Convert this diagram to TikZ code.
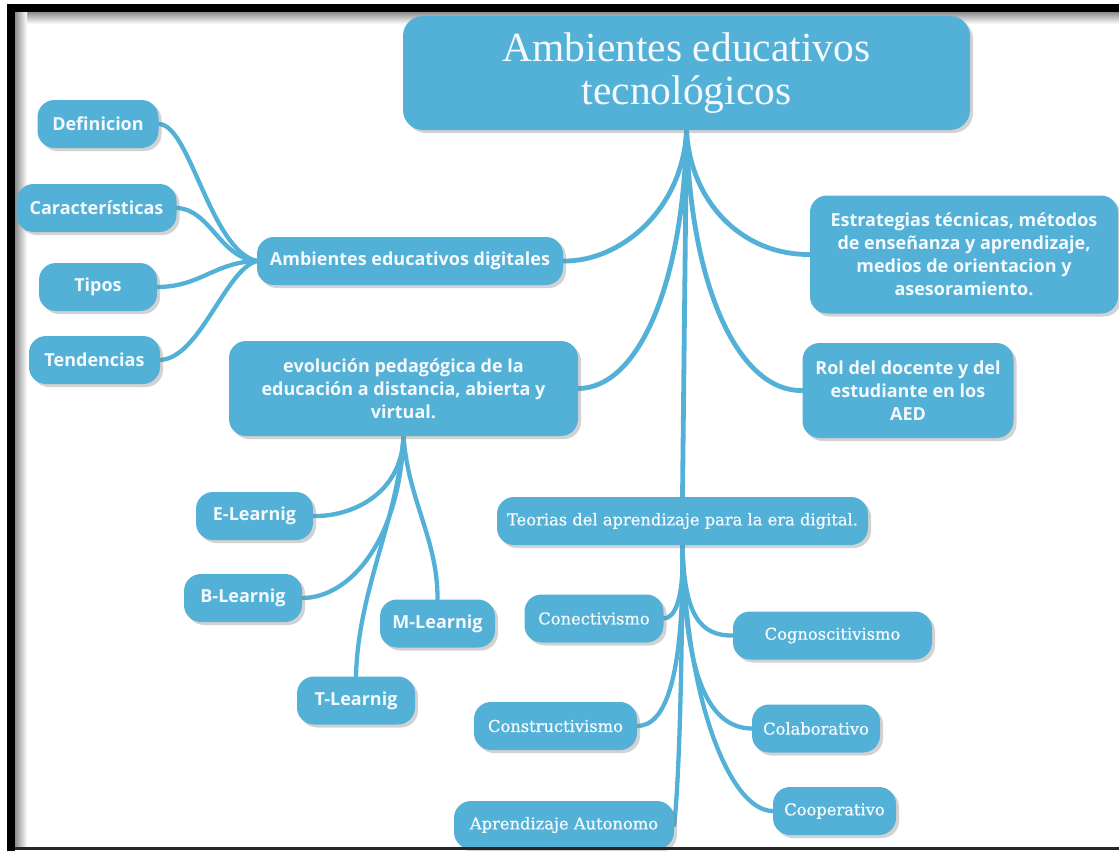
\documentclass[tikz,border=0pt]{standalone}
\usepackage{fontspec}
\setmainfont{Open Sans}
\newfontfamily\titlefont{Liberation Serif}
\newfontfamily\slabfont[FakeBold=0.8]{DejaVu Serif}
\usetikzlibrary{shadows,backgrounds}
\definecolor{mapblue}{RGB}{83,177,216}
\definecolor{maptext}{RGB}{243,249,252}
\begin{document}
\begin{tikzpicture}[x=1pt,y=-1pt,
  topic/.style={fill=mapblue,text=maptext,rounded corners=17pt,align=center,minimum height=48pt,inner sep=2pt,
    font=\fontsize{18}{23}\selectfont\bfseries,
    drop shadow={shadow xshift=3pt,shadow yshift=-3pt,opacity=.35}},
  theory/.style={topic,font=\fontsize{16.3}{20}\slabfont},
  branch/.style={draw=mapblue,line width=4.3pt,line cap=round}]
\useasboundingbox (0,0) rectangle (1119,851);
% root
\node[topic,minimum width=567pt,minimum height=114pt,rounded corners=20pt,font=\fontsize{41.5}{43}\titlefont] (root) at (686.5,73) {Ambientes educativos\\tecnológicos};
% main topics
\node[topic,minimum width=306pt] (aed) at (410,261) {Ambientes educativos digitales};
\node[topic,minimum width=308pt,minimum height=118pt] (est) at (964,254.5) {Estrategias técnicas, métodos\\de enseñanza y aprendizaje,\\medios de orientacion y\\asesoramiento.};
\node[topic,minimum width=349pt,minimum height=95pt] (evo) at (403.5,388.5) {evolución pedagógica de la\\educación a distancia, abierta y\\virtual.};
\node[topic,minimum width=211pt,minimum height=95pt] (rol) at (908,390.5) {Rol del docente y del\\estudiante en los\\AED};
\node[theory,minimum width=371pt] (teo) at (682.5,521) {Teorias del aprendizaje para la era digital.};
% ambientes digitales
\node[topic,minimum width=121pt] (def) at (98,124) {Definicion};
\node[topic,minimum width=160pt] (car) at (96.5,208) {Características};
\node[topic,minimum width=118pt] (tip) at (98,287) {Tipos};
\node[topic,minimum width=131pt] (ten) at (94.5,360) {Tendencias};
% modalidades
\node[topic,minimum width=117pt] (el) at (254.5,516) {E-Learnig};
\node[topic,minimum width=118pt] (bl) at (243,598) {B-Learnig};
\node[topic,minimum width=115pt] (ml) at (437.5,623.5) {M-Learnig};
\node[topic,minimum width=118pt] (tl) at (356,700.5) {T-Learnig};
% teorias
\node[theory,minimum width=139pt] (con) at (594,618.5) {Conectivismo};
\node[theory,minimum width=199pt] (cog) at (832.5,635.5) {Cognoscitivismo};
\node[theory,minimum width=163pt] (cons) at (555.5,726) {Constructivismo};
\node[theory,minimum width=128pt] (col) at (816,728.5) {Colaborativo};
\node[theory,minimum width=220pt] (apa) at (564,825) {Aprendizaje Autonomo};
\node[theory,minimum width=123pt] (coo) at (834.5,811) {Cooperativo};
\begin{scope}[on background layer]
\fill[white] (0,0) rectangle (1119,851);
\shade[top color=black!45,bottom color=white] (15,12) rectangle (1119,24);
\shade[left color=black!45,right color=white] (15,12) rectangle (27,847);
% trunk
\draw[branch,line width=4.8pt] (root.south) .. controls (683,210) and (620,262) .. (aed.east);
\draw[branch,line width=4.8pt] (root.south) .. controls (684,280) and (640,388) .. (evo.east);
\draw[branch,line width=4.8pt] (root.south) -- (teo.north);
\draw[branch,line width=4.8pt] (root.south) .. controls (690,290) and (740,392) .. (rol.west);
\draw[branch,line width=4.8pt] (root.south) .. controls (690,200) and (740,255) .. (est.west);
% left
\draw[branch] (def.east) .. controls (190,124) and (210,250) .. (aed.west);
\draw[branch] (car.east) .. controls (210,209) and (220,258) .. (aed.west);
\draw[branch] (tip.east) .. controls (200,287) and (215,262) .. (aed.west);
\draw[branch] (ten.east) .. controls (200,358) and (225,270) .. (aed.west);
% evolucion
\draw[branch] (evo.south) .. controls (402,495) and (350,517) .. (el.east);
\draw[branch] (evo.south) .. controls (400,540) and (350,598) .. (bl.east);
\draw[branch] (evo.south) .. controls (398,520) and (358,590) .. (tl.north);
\draw[branch] (evo.south) .. controls (408,500) and (438,540) .. (ml.north);
% teorias
\draw[branch] (teo.south) .. controls (684,600) and (675,618) .. (con.east);
\draw[branch] (teo.south) .. controls (684,615) and (700,636) .. (cog.west);
\draw[branch] (teo.south) .. controls (684,680) and (665,726) .. (cons.east);
\draw[branch] (teo.south) .. controls (684,680) and (710,728) .. (col.west);
\draw[branch] (teo.south) .. controls (682,700) and (678,790) .. (apa.east);
\draw[branch] (teo.south) .. controls (686,700) and (730,811) .. (coo.west);
\end{scope}
% frame
\fill[black] (7,4) rectangle (1119,12);
\fill[black] (7,4) rectangle (15,851);
\fill[black!85] (15,847) rectangle (1119,850);
\end{tikzpicture}
\end{document}
